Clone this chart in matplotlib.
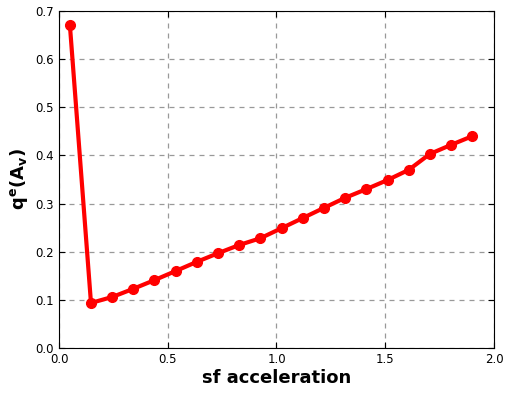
import matplotlib
matplotlib.use("Agg")
import matplotlib.pyplot as plt

x_vals = [0.05, 0.147, 0.245, 0.342, 0.439, 0.537, 0.634, 0.732, 0.829, 0.926,
          1.024, 1.121, 1.218, 1.316, 1.413, 1.511, 1.608, 1.705, 1.803, 1.9]
y_vals = [0.671, 0.0935, 0.106, 0.123, 0.141, 0.160, 0.179, 0.197, 0.214, 0.228,
          0.249, 0.270, 0.291, 0.312, 0.330, 0.349, 0.370, 0.403, 0.422, 0.440]
x_ticks = [0.0, 0.5, 1.0, 1.5, 2.0]
y_ticks = [0.0, 0.1, 0.2, 0.3, 0.4, 0.5, 0.6, 0.7]

fig = plt.figure(figsize=(5.1, 3.94), dpi=100)
ax = fig.add_axes([0.1157, 0.1168, 0.8529, 0.8552])
ax.plot(x_vals, y_vals, color='red', linewidth=3, marker='o', markersize=7,
        markeredgecolor='red')
ax.set_xlim(0, 2.0)
ax.set_ylim(0, 0.7)
ax.set_xticks(x_ticks)
ax.set_yticks(y_ticks)
ax.set_xticklabels([f"{t:.1f}" for t in x_ticks])
ax.set_yticklabels([f"{t:.1f}" for t in y_ticks])
ax.tick_params(direction='in', length=4, top=True, right=True, labelsize=8.5)
ax.grid(True, linestyle=(0, (4, 4)), color='#999999', linewidth=0.9)
ax.set_axisbelow(True)
ax.set_xlabel('sf acceleration', fontsize=13, fontweight='bold', labelpad=2)
ax.set_ylabel(r'$\mathbf{q^{e}(A_{v})}$', fontsize=13, labelpad=4)
fig.savefig('out.png', dpi=100)
